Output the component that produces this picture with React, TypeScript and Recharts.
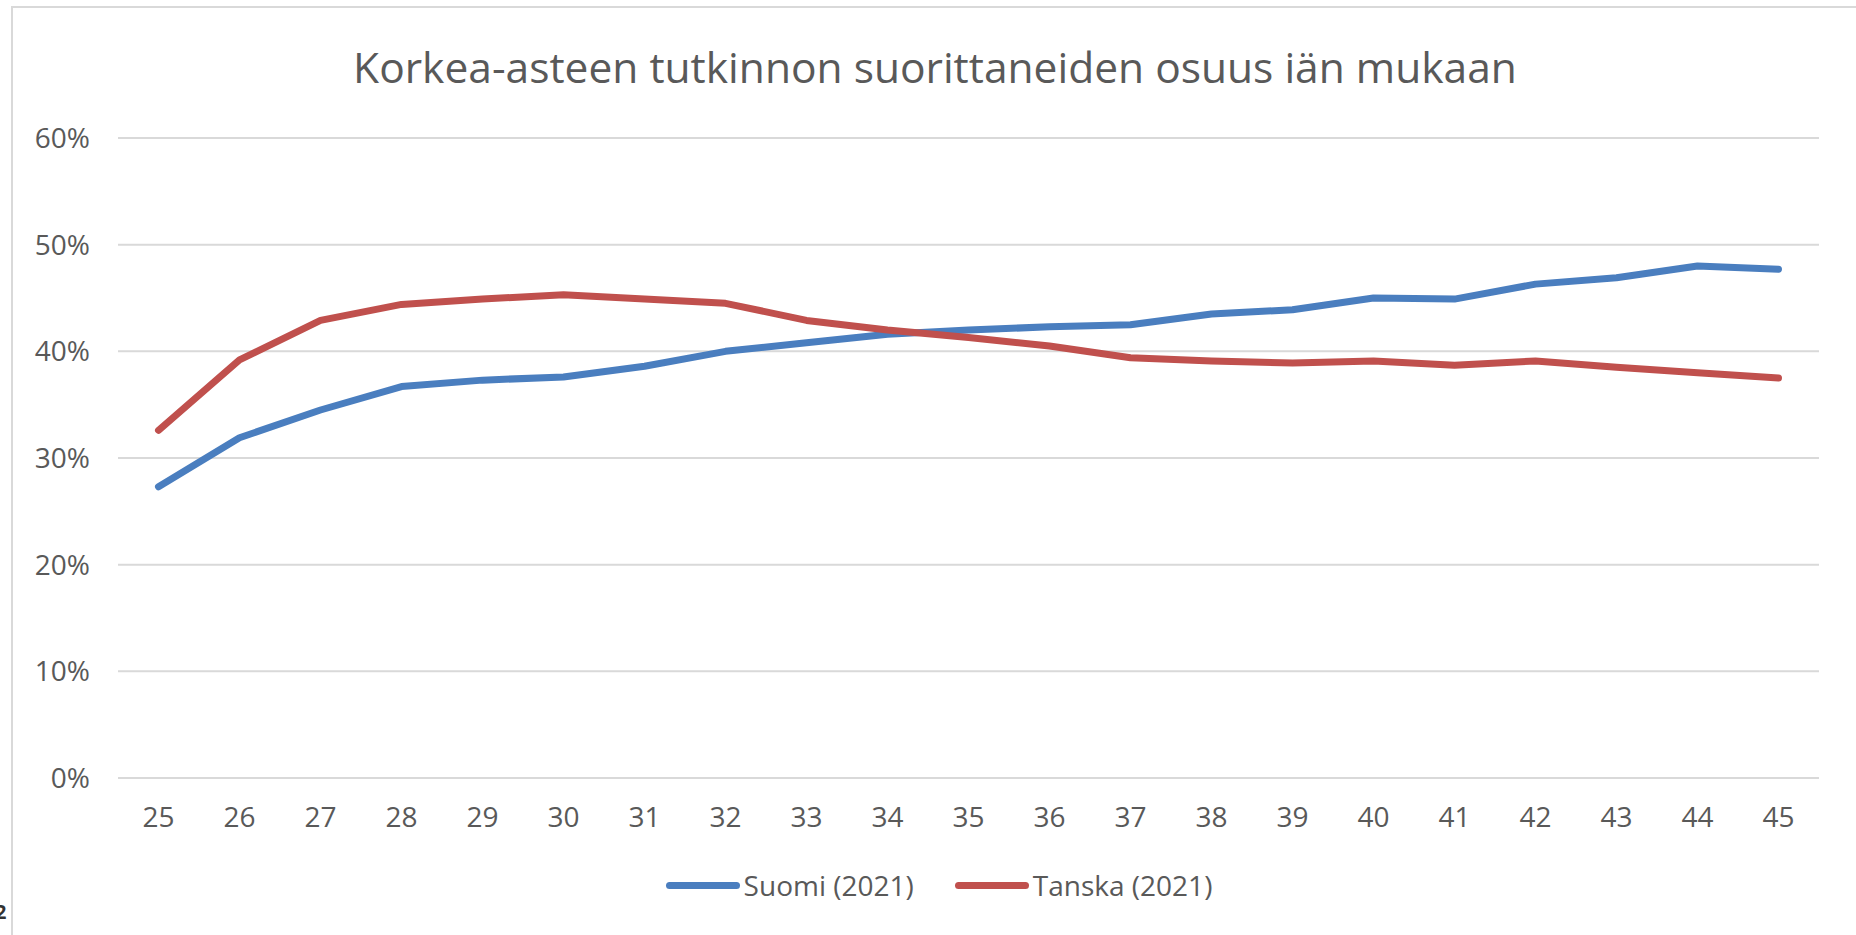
import React from "react";
import {
  LineChart,
  Line,
  XAxis,
  YAxis,
  CartesianGrid,
} from "recharts";

// Ages on the x axis
const ages = [
  25, 26, 27, 28, 29, 30, 31, 32, 33, 34, 35, 36, 37, 38, 39, 40, 41, 42, 43, 44, 45,
];

// Share (%) of people with a tertiary degree
const suomi = [
  27.3, 31.9, 34.5, 36.7, 37.3, 37.6, 38.6, 40.0, 40.8, 41.6, 42.0, 42.3, 42.5, 43.5,
  43.9, 45.0, 44.9, 46.3, 46.9, 48.0, 47.7,
];
const tanska = [
  32.6, 39.2, 42.9, 44.4, 44.9, 45.3, 44.9, 44.5, 42.9, 42.0, 41.3, 40.5, 39.4, 39.1,
  38.9, 39.1, 38.7, 39.1, 38.5, 38.0, 37.5,
];

const yTicks = [0, 10, 20, 30, 40, 50, 60];

const title = "Korkea-asteen tutkinnon suorittaneiden osuus iän mukaan";

const series = [
  { key: "suomi", name: "Suomi (2021)", color: "#4a7ebf" },
  { key: "tanska", name: "Tanska (2021)", color: "#c0504d" },
];

const data = ages.map((age, i) => ({
  age,
  suomi: suomi[i],
  tanska: tanska[i],
}));

const FONT = "'Open Sans', 'Noto Sans', sans-serif";
const TEXT = "#595959";
const GRID = "#d9d9d9";

export default function App() {
  return (
    <div
      style={{
        position: "absolute",
        left: 0,
        top: 0,
        width: 1856,
        height: 935,
        overflow: "hidden",
        background: "#fff",
        fontFamily: FONT,
      }}
    >
      {/* chart frame */}
      <div
        style={{
          position: "absolute",
          left: 11,
          top: 6,
          width: 1900,
          height: 1000,
          borderLeft: `2px solid ${GRID}`,
          borderTop: `2px solid ${GRID}`,
        }}
      />
      <span
        style={{
          position: "absolute",
          left: -5,
          top: 898,
          fontSize: 20,
          fontWeight: 700,
          color: "#333",
        }}
      >
        2
      </span>

      <div
        style={{
          position: "absolute",
          left: 0,
          top: 43,
          width: 1870,
          textAlign: "center",
          fontSize: 42.5,
          lineHeight: "48px",
          color: TEXT,
        }}
      >
        {title}
      </div>

      <div style={{ position: "absolute", left: 0, top: 0 }}>
        <LineChart
          width={1856}
          height={935}
          data={data}
          margin={{ top: 138, right: 37, bottom: 97, left: 18 }}
        >
          <CartesianGrid vertical={false} stroke={GRID} strokeWidth={2} />
          <XAxis
            dataKey="age"
            height={60}
            padding={{ left: 40.5, right: 40.5 }}
            axisLine={{ stroke: GRID, strokeWidth: 2 }}
            tickLine={false}
            tickSize={0}
            tickMargin={29}
            tick={{ fill: TEXT, fontSize: 28, fontFamily: FONT }}
            interval={0}
          />
          <YAxis
            width={100}
            domain={[0, 60]}
            ticks={yTicks}
            axisLine={false}
            tickLine={false}
            tickSize={0}
            tickMargin={28}
            tickFormatter={(v: number) => `${v}%`}
            tick={{ fill: TEXT, fontSize: 28, fontFamily: FONT }}
          />
          {series.map((s) => (
            <Line
              key={s.key}
              type="linear"
              dataKey={s.key}
              name={s.name}
              stroke={s.color}
              strokeWidth={7}
              strokeLinecap="round"
              strokeLinejoin="round"
              dot={false}
              activeDot={false}
              isAnimationActive={false}
            />
          ))}
        </LineChart>
      </div>

      {/* legend */}
      <div
        style={{
          position: "absolute",
          left: 0,
          top: 866,
          width: 1878,
          height: 38,
          display: "flex",
          justifyContent: "center",
          alignItems: "center",
          fontSize: 28,
          color: TEXT,
          gap: 41,
        }}
      >
        {series.map((s) => (
          <div key={s.key} style={{ display: "flex", alignItems: "center" }}>
            <div
              style={{
                width: 74,
                height: 7,
                borderRadius: 4,
                background: s.color,
                marginRight: 4,
              }}
            />
            <span>{s.name}</span>
          </div>
        ))}
      </div>
    </div>
  );
}
